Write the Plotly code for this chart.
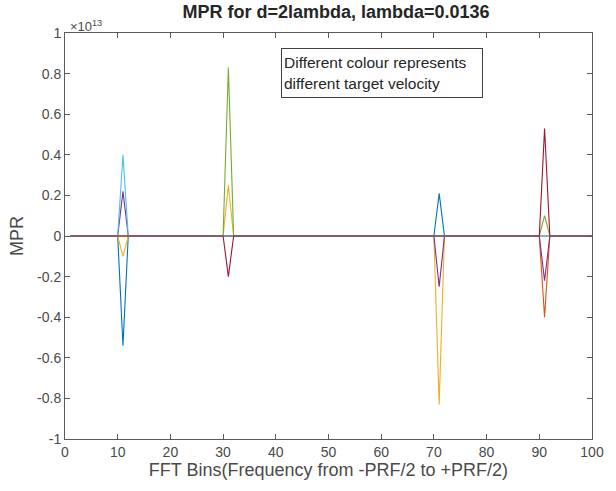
import numpy as np
import plotly.graph_objects as go

# FFT bin axis
bins = np.arange(1, 101)

# Non-zero MPR responses per target velocity (bin, value in units of 1e13)
blue_bins, blue_vals = [11, 71], [-0.54, 0.21]
orange_bins, orange_vals = [91], [-0.40]
yellow_bins, yellow_vals = [11, 31, 71], [-0.10, 0.25, -0.83]
purple_bins, purple_vals = [11, 71, 91], [0.22, -0.25, -0.22]
green_bins, green_vals = [31, 91], [0.83, 0.10]
lightblue_bins, lightblue_vals = [11], [0.40]
darkred_bins, darkred_vals = [31, 91], [-0.20, 0.53]

series = [
    ("#0072BD", blue_bins, blue_vals),
    ("#D95319", orange_bins, orange_vals),
    ("#EDB120", yellow_bins, yellow_vals),
    ("#7E2F8E", purple_bins, purple_vals),
    ("#77AC30", green_bins, green_vals),
    ("#4DBEEE", lightblue_bins, lightblue_vals),
    ("#A2142F", darkred_bins, darkred_vals),
]

y_ticks = [-1, -0.8, -0.6, -0.4, -0.2, 0, 0.2, 0.4, 0.6, 0.8, 1]
y_ticktext = ["-1", "-0.8", "-0.6", "-0.4", "-0.2", "0", "0.2", "0.4", "0.6", "0.8", "1"]
x_ticks = list(range(0, 101, 10))

fig = go.Figure()
for color, b, v in series:
    y = np.zeros(len(bins))
    for bb, vv in zip(b, v):
        y[bb - 1] = vv
    fig.add_trace(go.Scatter(x=bins, y=y, mode="lines",
                             line=dict(color=color, width=1.1),
                             showlegend=False, hoverinfo="skip"))

axis_color = "#5a5a5a"
font_family = "Liberation Sans, Arial"
tick_font = dict(family=font_family, size=14, color="#4a4a4a")
label_font = dict(family=font_family, size=18, color="#4a4a4a")

fig.update_layout(
    width=616, height=491,
    margin=dict(l=65, r=16, t=33, b=52),
    paper_bgcolor="white", plot_bgcolor="white",
    title=dict(text="<b>MPR for d=2lambda, lambda=0.0136</b>",
               x=336 / 616, xanchor="center", y=1 - 12 / 491, yanchor="middle",
               font=dict(family=font_family, size=18, color="#262626")),
    xaxis=dict(range=[0, 100], tickvals=x_ticks, ticks="inside", ticklen=5,
               tickcolor=axis_color, showline=True, linecolor=axis_color, linewidth=1,
               mirror="allticks", showgrid=False, zeroline=False, tickfont=tick_font,
               title=dict(text="FFT Bins(Frequency from -PRF/2 to +PRF/2)",
                          font=label_font, standoff=3)),
    yaxis=dict(range=[-1, 1], tickvals=y_ticks, ticktext=y_ticktext, ticks="inside",
               ticklen=5, tickcolor=axis_color, showline=True, linecolor=axis_color,
               linewidth=1, mirror="allticks", showgrid=False, zeroline=False,
               tickfont=tick_font,
               title=dict(text="MPR", font=label_font, standoff=8)),
)

# exponent label for the y axis
fig.add_annotation(xref="paper", yref="paper", x=0.0, y=1.0, xanchor="left", yanchor="bottom",
                   xshift=3, yshift=-3, showarrow=False,
                   text="\u00d710<sup>13</sup>",
                   font=dict(family=font_family, size=13, color="#4a4a4a"))

# text box
fig.add_annotation(xref="x", yref="y", x=40.9, y=0.926, xanchor="left", yanchor="top",
                   showarrow=False, align="left", valign="middle", width=196, height=44,
                   text="Different colour represents<br>different target velocity",
                   bordercolor="#404040", borderwidth=1, borderpad=2, bgcolor="white",
                   font=dict(family=font_family, size=15.5, color="#262626"))

fig.write_html("out.html")
